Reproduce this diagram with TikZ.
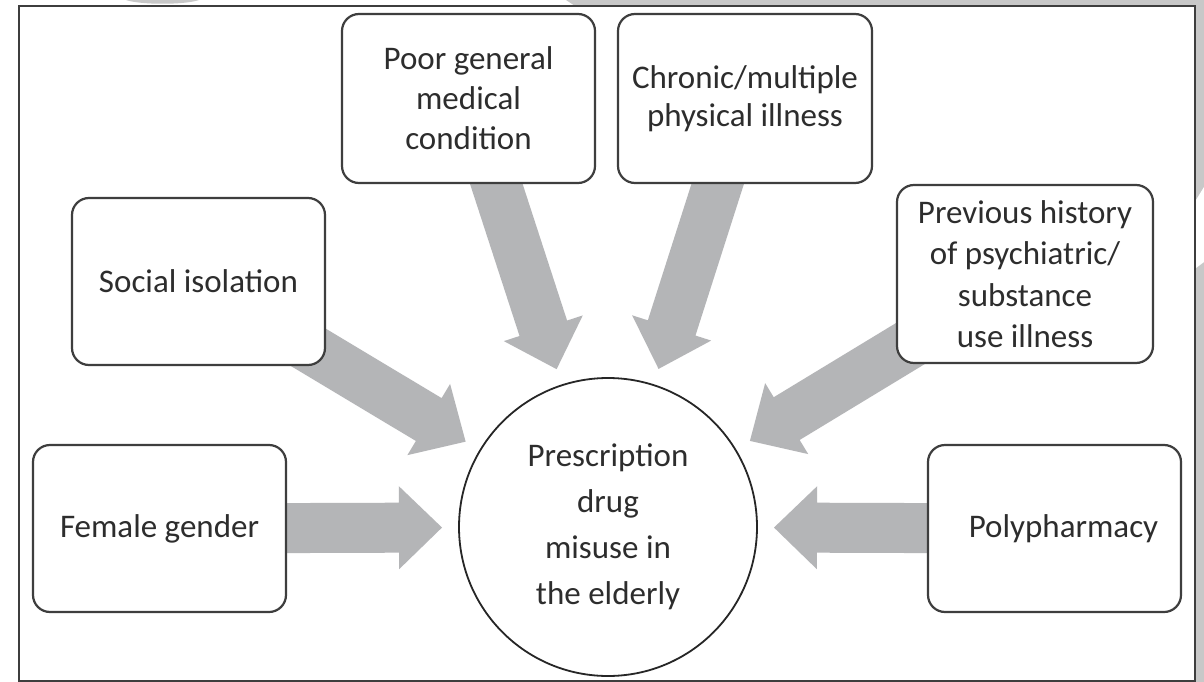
\documentclass[tikz,border=0pt]{standalone}
\usepackage{fontspec}
\setmainfont{Carlito}
\usetikzlibrary{calc,backgrounds}

\definecolor{arrowgray}{RGB}{180,181,183}
\definecolor{edgegray}{RGB}{62,62,62}
\definecolor{txtgray}{RGB}{45,45,45}
\definecolor{margray}{RGB}{200,200,200}

\begin{document}
\begin{tikzpicture}[x=1pt,y=-1pt,
  factor/.style={draw=edgegray, line width=2.2pt, rounded corners=17pt,
    fill=white, text=txtgray, align=center, inner sep=0pt,
    font=\fontsize{33}{40}\selectfont},
  hub/.style={circle, draw=black!85, line width=1.8pt, fill=white,
    minimum size=298pt, inner sep=0pt, text=txtgray, align=center,
    font=\fontsize{33}{46}\selectfont},
  framebox/.style={draw=edgegray, line width=2pt},
  margin/.style={fill=margray}
]
\useasboundingbox (0,0) rectangle (1204,682);

% page background, grey margins and the outer frame
\begin{scope}[on background layer]
  \fill[white] (0,0) rectangle (1204,682);
  \fill[margin] (566,0) -- (1204,0) -- (1204,6) -- (575,6) -- cycle;
  \fill[margin] (1196,0) rectangle (1204,682);
  \fill[white] (1196,200) -- (1204,187) -- (1204,262) -- (1196,268) -- cycle;
  \fill[margin] (126,0) .. controls (140,5) and (185,5) .. (199,0) -- cycle;
  \draw[framebox] (19,6) rectangle (1195,681);
\end{scope}

% central outcome
\node[hub] (hub) at (608,527)
  {Prescription\\drug\\misuse in\\the elderly};

% risk factors
\node[factor, minimum width=253pt, minimum height=169pt] (poor) at (468.5,98.5)
  {Poor general\\medical\\condition};
\node[factor, minimum width=254pt, minimum height=169pt,
      font=\fontsize{33}{38}\selectfont] (chron) at (745,98.5)
  {Chronic/multiple\\physical illness};
\node[factor, minimum width=256pt, minimum height=178pt,
      font=\fontsize{33}{41.5}\selectfont] (prev) at (1025,274)
  {Previous history\\of psychiatric/\\substance\\use illness};
\node[factor, minimum width=253pt, minimum height=167pt] (soc) at (198.5,281.5)
  {Social isolation};
\node[factor, minimum width=253pt, minimum height=167pt] (fem) at (159.5,528.5)
  {Female gender};
\node[factor, minimum width=253pt, minimum height=167pt] (poly) at (1054.5,528.5)
  {\hspace*{18pt}Polypharmacy};

% broad grey arrows pointing from each factor towards the centre
\begin{scope}[on background layer]
  \foreach \b in {poor,chron,prev,soc,fem,poly}{
    \path (\b.center) coordinate (S)
          ($(hub.center)!166pt!(\b.center)$) coordinate (T);
    \path ($(T)!43pt!(S)$) coordinate (B);
    \fill[arrowgray]
      ($(S)!25pt!90:(T)$) -- ($(B)!25pt!-90:(S)$) -- ($(B)!41.5pt!-90:(S)$)
      -- (T) --
      ($(B)!41.5pt!90:(S)$) -- ($(B)!25pt!90:(S)$) -- ($(S)!25pt!-90:(T)$)
      -- cycle;
  }
\end{scope}
\end{tikzpicture}
\end{document}
